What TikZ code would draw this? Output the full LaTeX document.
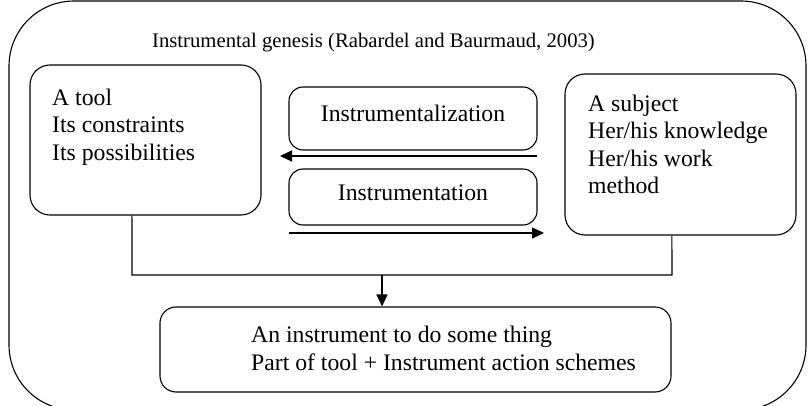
\documentclass[tikz,border=0pt]{standalone}
\usepackage{fontspec}
\setmainfont{Liberation Serif}
\usetikzlibrary{arrows.meta,calc}
\begin{document}
\begin{tikzpicture}[x=1pt,y=-1pt,
  box/.style={draw, line width=1.1pt, rounded corners=20pt, inner sep=0pt},
  txt/.style={inner sep=0pt, font=\fontsize{23.7}{27.5}\selectfont, align=left},
  line/.style={line width=1.1pt},
  arr/.style={line width=1.4pt, -{Triangle[length=12pt,width=11pt]}}]
\useasboundingbox (0,0) rectangle (809,406);
\begin{scope}
\clip (0,0) rectangle (809,406);
\draw[line width=1.1pt, rounded corners=65pt] (9,1) rectangle (806,410);
\end{scope}
\node[txt, font=\fontsize{20.7}{24}\selectfont] (title) at (373.5,43) {Instrumental genesis (Rabardel and Baurmaud, 2003)};
% left box
\node[box, minimum width=231pt, minimum height=150pt] (tool) at (145.5,140) {};
\node[txt, anchor=west] (tooltxt) at (52,127) {A tool\\Its constraints\\Its possibilities};
% right box
\node[box, minimum width=231pt, minimum height=161pt] (subj) at (680.5,154.5) {};
\node[txt, anchor=west] (subjtxt) at (588,144.5) {A subject\\Her/his knowledge\\Her/his work\\method};
% middle boxes
\node[box, rounded corners=14pt, minimum width=248pt, minimum height=63pt] (izn) at (413,118.5) {};
\node[txt] (izntxt) at (413,113) {Instrumentalization};
\node[box, rounded corners=14pt, minimum width=248pt, minimum height=56pt] (itn) at (413,197) {};
\node[txt] (itntxt) at (413,193) {Instrumentation};
% bottom box
\node[box, rounded corners=16pt, minimum width=511pt, minimum height=85pt] (out) at (415.5,349.5) {};
\node[txt, anchor=west] (outtxt) at (251,348.5) {An instrument to do some thing\\Part of tool + Instrument action schemes};
% arrows
\coordinate (la) at (537,156);
\coordinate (lb) at (280,156);
\draw[arr] (la) -- (lb);
\coordinate (ra) at (289,233);
\coordinate (rb) at (544,233);
\draw[arr] (ra) -- (rb);
% connectors
\coordinate (tb) at ($(tool.south west)!0.4416!(tool.south east)$);
\coordinate (sb) at ($(subj.south west)!0.463!(subj.south east)$);
\coordinate (jl) at (132,275);
\coordinate (jr) at (672,275);
\draw[line] (tb) -- (jl) -- (jr) -- (sb);
\coordinate (jn) at (382,275);
\draw[arr, line width=1.1pt] (jn) -- (jn |- out.north);
\end{tikzpicture}
\end{document}
